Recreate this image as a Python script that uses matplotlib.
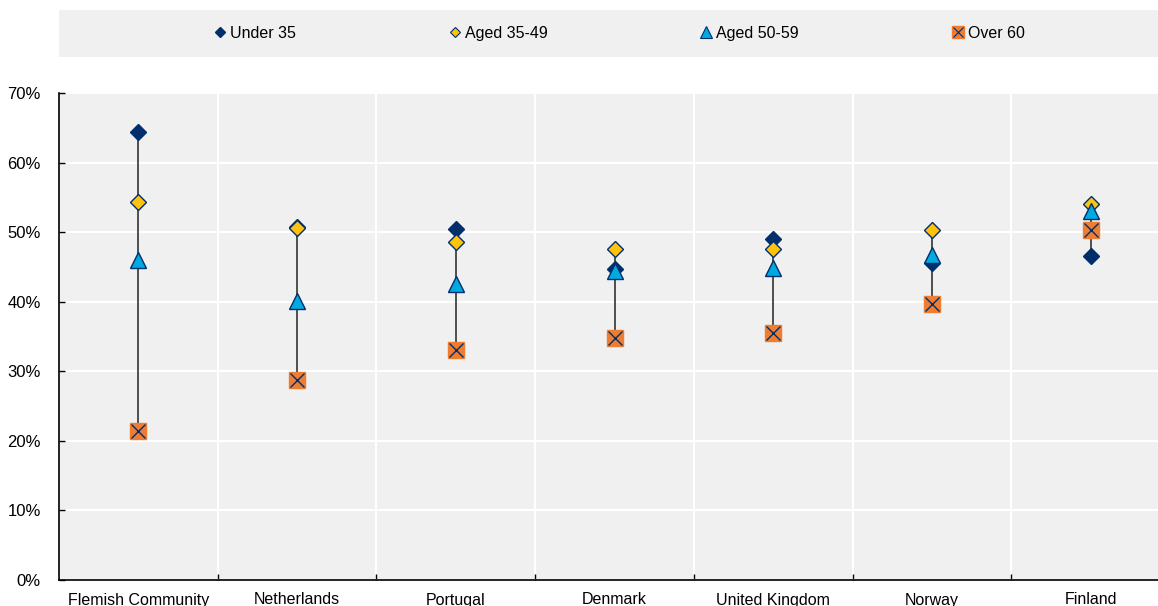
import numpy as np
import matplotlib.pyplot as plt
from matplotlib.lines import Line2D

plt.rcParams['font.family'] = ['Liberation Sans', 'DejaVu Sans']

# data (share, %)
countries = ["Flemish Community", "Netherlands", "Portugal", "Denmark",
             "United Kingdom", "Norway", "Finland"]
under35 = [64.4, 50.7, 50.5, 44.7, 49.0, 45.6, 46.6]
aged35_49 = [54.3, 50.6, 48.6, 47.6, 47.6, 50.3, 54.0]
aged50_59 = [46.0, 40.1, 42.5, 44.4, 44.8, 46.7, 53.0]
over60 = [21.4, 28.7, 33.1, 34.8, 35.5, 39.7, 50.3]
yticks = [0, 10, 20, 30, 40, 50, 60, 70]

navy = "#002F6C"
gold = "#FFC20E"
sky = "#00A9E0"
orange = "#EE7D31"
bg = "#F0F0F0"

W, H = 1158, 606
fig = plt.figure(figsize=(W / 100, H / 100), dpi=100)
ax = fig.add_axes([59 / W, (H - 580) / H, (W - 59) / W, (580 - 93) / H])
ax.set_facecolor(bg)

x = np.arange(len(countries))
allv = np.array([under35, aged35_49, aged50_59, over60])
lo = allv.min(axis=0)
hi = allv.max(axis=0)
ax.vlines(x, lo, hi, color="#222222", lw=1.1, zorder=2)

ax.plot(x, over60, ls="none", marker="s", ms=11, mfc=orange, mec=orange, zorder=3)
ax.plot(x, over60, ls="none", marker="x", ms=10, mec=navy, mew=1.0, zorder=4)
ax.plot(x, under35, ls="none", marker="D", ms=8.3, mfc=navy, mec=navy, zorder=5)
ax.plot(x, aged35_49, ls="none", marker="D", ms=8.3, mfc=gold, mec=navy, mew=1.0, zorder=6)
ax.plot(x, aged50_59, ls="none", marker="^", ms=11.5, mfc=sky, mec=navy, mew=1.0, zorder=7)

ax.set_ylim(0, 70)
ax.set_xlim(-0.5, 6.5 - 12 / 158.7)
ax.set_yticks(yticks)
ax.set_yticklabels([f"{v}%" for v in yticks], fontsize=12)
ax.set_xticks(x)
ax.set_xticklabels(countries, fontsize=11.5)
ax.set_xticks(x[:-1] + 0.5, minor=True)
ax.tick_params(axis="x", which="major", length=0, pad=9)
ax.tick_params(axis="x", which="minor", length=4, width=1, direction="in")
ax.tick_params(axis="y", length=4, width=1, direction="in", pad=13)

ax.grid(axis="x", which="minor", color="white", lw=1.5)
ax.grid(axis="y", which="major", color="white", lw=1.5)
ax.set_axisbelow(True)
for s in ["top", "right"]:
    ax.spines[s].set_visible(False)
for s in ["left", "bottom"]:
    ax.spines[s].set_linewidth(1.2)
    ax.spines[s].set_color("black")

# legend strip
lax = fig.add_axes([59 / W, (H - 57) / H, (W - 59) / W, 47 / H])
lax.set_facecolor(bg)
lax.set_xticks([])
lax.set_yticks([])
for s in lax.spines.values():
    s.set_visible(False)

handles = [
    Line2D([], [], ls="none", marker="D", ms=5.5, mfc=navy, mec=navy),
    Line2D([], [], ls="none", marker="D", ms=5.5, mfc=gold, mec=navy, mew=0.8),
    Line2D([], [], ls="none", marker="^", ms=8, mfc=sky, mec=navy, mew=0.8),
    (Line2D([], [], ls="none", marker="s", ms=8, mfc=orange, mec=orange),
     Line2D([], [], ls="none", marker="x", ms=7, mec=navy, mew=0.8)),
]
labels = ["Under 35", "Aged 35-49", "Aged 50-59", "Over 60"]
starts = [214, 449, 700, 952]
for h, lab, sx in zip(handles, labels, starts):
    lg = lax.legend([h], [lab], loc="center left",
                    bbox_to_anchor=((sx - 59) / (W - 59), 0.5),
                    frameon=False, fontsize=11.5, handlelength=0.8,
                    handletextpad=0.2, borderpad=0, borderaxespad=0)
    lax.add_artist(lg)
lax.legend_ = None

fig.savefig("out.png", dpi=100)
